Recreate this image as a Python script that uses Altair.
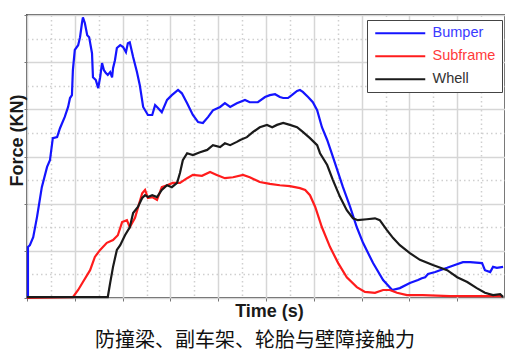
import altair as alt
import pandas as pd

# Time (ms) and force (kN) readings per series
bumper_t = [0.2, 0.2, 0.6, 1.3, 2.1, 3.1, 4.2, 4.8, 5.4, 6.3, 6.9, 7.9, 8.6, 9.0, 9.4, 9.6, 10.0, 10.7, 11.1, 11.5,
            11.7, 12.1, 12.6, 13.0, 13.6, 13.8, 14.4, 14.9, 15.3, 15.7, 16.1, 16.5, 16.9, 17.4, 17.8, 18.0, 18.4, 18.8,
            19.5, 20.1, 20.7, 21.1, 21.5, 22.2, 23.0, 23.6, 24.3, 25.3, 26.2, 26.8, 27.4, 28.2, 29.3, 30.3, 31.6, 32.4,
            33.5, 34.7, 35.8, 36.8, 37.9, 38.9, 40.4, 41.4, 42.5, 43.9, 45.6, 46.6, 48.3, 49.8, 50.8, 51.9, 52.9, 53.6,
            54.6, 55.4, 56.5, 57.1, 57.7, 58.8, 59.8, 60.7, 61.7, 62.8, 64.0, 66.1, 67.6, 69.0, 70.3, 72.4, 74.5, 76.4,
            78.0, 80.1, 81.8, 82.6, 83.3, 83.9, 85.4, 86.4, 87.9, 89.5, 91.2, 92.7, 95.2, 95.8, 96.9, 97.5, 98.3, 99.6]
bumper_f = [0.0, 10.8, 11.2, 12.9, 17.2, 23.5, 27.8, 29.2, 33.9, 34.1, 36.0, 38.4, 40.5, 42.4, 43.0, 48.3, 52.6, 53.6,
            55.3, 58.3, 59.5, 58.3, 55.7, 55.3, 51.9, 46.8, 46.2, 44.5, 46.8, 49.8, 48.3, 47.7, 47.3, 47.9, 46.8, 48.7,
            50.4, 53.0, 53.6, 53.2, 52.1, 54.0, 54.2, 51.1, 47.9, 45.1, 40.5, 38.8, 38.8, 40.9, 40.3, 39.4, 42.0, 43.0,
            44.1, 43.4, 41.3, 38.8, 37.3, 37.1, 38.4, 39.8, 40.5, 41.3, 40.5, 41.3, 42.0, 41.5, 41.5, 42.6, 43.0, 43.2,
            42.6, 42.4, 42.4, 43.0, 43.9, 44.1, 43.7, 42.6, 41.5, 39.8, 36.2, 33.5, 29.9, 23.5, 19.3, 15.0, 11.7, 7.4,
            3.8, 1.7, 2.1, 3.2, 3.8, 4.2, 4.4, 5.1, 5.5, 5.9, 6.4, 7.0, 7.6, 7.6, 7.4, 5.9, 5.5, 6.6, 6.4, 6.6]

subframe_t = [0.0, 9.6, 10.7, 11.7, 13.2, 14.2, 15.3, 16.7, 18.0, 19.0, 19.9, 20.9, 21.5, 22.6, 23.2, 24.1, 24.7, 25.3,
              26.2, 27.2, 28.2, 29.3, 30.5, 32.0, 33.5, 34.7, 36.6, 38.3, 39.7, 41.4, 43.1, 45.2, 46.6, 48.7, 50.8,
              52.9, 55.0, 57.1, 58.2, 59.2, 60.3, 61.7, 63.4, 65.1, 66.9, 69.0, 70.7, 72.8, 74.5, 75.9, 77.4, 79.5,
              82.8, 88.5, 95.4, 99.6]
subframe_f = [0.0, 0.2, 1.7, 3.4, 5.9, 8.7, 10.2, 11.7, 12.3, 13.3, 16.1, 16.5, 15.0, 17.0, 19.1, 22.2, 22.9, 21.2,
              21.4, 20.8, 23.5, 23.9, 24.4, 24.4, 25.4, 26.1, 25.9, 26.7, 26.1, 25.4, 25.6, 26.1, 25.6, 24.6, 24.2,
              23.9, 23.7, 23.3, 22.9, 21.8, 19.3, 15.0, 10.8, 7.4, 4.4, 2.3, 1.3, 1.1, 1.7, 1.7, 1.1, 0.6, 0.6, 0.4,
              0.4, 0.4]

whell_t = [0.0, 16.9, 17.4, 18.0, 18.8, 19.5, 20.5, 21.5, 22.2, 23.2, 24.1, 24.7, 25.3, 26.2, 27.2, 28.2, 29.3, 30.3,
           31.4, 32.0, 32.6, 33.5, 34.7, 36.2, 37.7, 38.9, 40.4, 41.4, 42.5, 43.9, 44.6, 46.0, 47.3, 48.7, 50.2, 51.3,
           52.3, 53.6, 55.0, 56.5, 57.7, 59.2, 60.7, 61.3, 62.8, 64.0, 65.5, 66.9, 68.2, 69.2, 71.1, 72.8, 73.8, 75.3,
           76.6, 78.0, 80.1, 82.2, 84.9, 87.9, 90.0, 92.1, 94.1, 95.8, 97.5, 99.0, 99.6]
whell_f = [0.2, 0.2, 3.2, 6.6, 10.2, 11.2, 13.3, 15.0, 18.0, 19.3, 21.2, 21.8, 21.4, 21.8, 21.4, 22.9, 23.9, 23.5, 24.4,
           26.5, 29.2, 30.7, 30.3, 30.9, 31.4, 32.4, 32.0, 32.8, 32.4, 33.1, 33.5, 34.1, 35.2, 36.2, 36.7, 36.2, 36.7,
           37.1, 36.7, 36.2, 35.2, 33.9, 32.4, 30.7, 28.2, 25.0, 21.4, 18.6, 16.9, 16.5, 16.7, 16.9, 16.5, 14.4, 12.7,
           11.2, 9.5, 8.1, 7.0, 5.9, 4.4, 3.4, 2.1, 1.1, 0.6, 0.8, 0.2]

series_names = ["Bumper", "Subframe", "Whell"]
series_colors = ["#1414ff", "#ff1c1c", "#1a1a1a"]
label_colors = ["#3a3aff", "#ff3a3a", "#333333"]

x_title = "Time (s)"
y_title = "Force (KN)"
caption = "防撞梁、副车架、轮胎与壁障接触力"

rows = []
for name, ts, fs in zip(series_names, [bumper_t, subframe_t, whell_t], [bumper_f, subframe_f, whell_f]):
    for i, (t, f) in enumerate(zip(ts, fs)):
        rows.append({"series": name, "t": t, "f": f, "idx": i})
df = pd.DataFrame(rows)

label_expr = ("datum.label == '%s' ? '%s' : datum.label == '%s' ? '%s' : '%s'"
              % (series_names[0], label_colors[0], series_names[1], label_colors[1], label_colors[2]))

minor_dash = {"condition": {"test": "datum.value % 10 !== 0", "value": [1.5, 3]}, "value": []}
minor_tick = {"condition": {"test": "datum.value % 10 !== 0", "value": 0}, "value": 1}
grid_col = {"condition": {"test": "datum.value % 10 !== 0", "value": "#cfcfcf"}, "value": "#d6d6d6"}

chart = alt.Chart(df).mark_line(strokeWidth=2.2).encode(
    x=alt.X("t:Q", scale=alt.Scale(domain=[0, 100], nice=False, zero=False),
            axis=alt.Axis(values=list(range(0, 101, 5)), labels=False, domain=False,
                          tickSize=3, tickColor="#777", tickOpacity=minor_tick,
                          gridDash=minor_dash, gridColor=grid_col, gridWidth=1.5,
                          title=x_title, titleFont="Liberation Sans", titleFontSize=18,
                          titleFontWeight="bold", titleColor="#1a1a1a", titlePadding=1, titleX=242)),
    y=alt.Y("f:Q", scale=alt.Scale(domain=[0, 60], nice=False),
            axis=alt.Axis(values=list(range(0, 61, 5)), labels=False, domain=False,
                          tickSize=3, tickColor="#777", tickOpacity=minor_tick,
                          gridDash=minor_dash, gridColor=grid_col, gridWidth=1.5,
                          title=y_title, titleFont="Liberation Sans", titleFontSize=18,
                          titleFontWeight="bold", titleColor="#1a1a1a", titleX=-1, titleY=125)),
    color=alt.Color("series:N", scale=alt.Scale(domain=series_names, range=series_colors),
                    legend=alt.Legend(orient="none", legendX=340, legendY=5, title=None,
                                      symbolType="M-1,0H9", symbolSize=100, symbolStrokeWidth=2,
                                      labelOffset=45, labelFont="Liberation Sans", labelFontSize=14.5,
                                      labelColor={"expr": label_expr},
                                      strokeColor="#444", fillColor="white", padding=6, rowPadding=8)),
    order="idx:Q",
).properties(
    width=478, height=283,
    autosize=alt.AutoSizeParams(type="none"),
    padding={"left": 19, "top": 7, "right": 0, "bottom": 60},
    title=alt.TitleParams(caption, orient="bottom", anchor="middle", font="Noto Sans CJK SC",
                          fontSize=20, fontWeight="normal", color="#111", offset=10, dx=-11),
).configure_view(stroke="#5a5a5a", strokeWidth=2)

chart.save("out.html", embed_options={"renderer": "svg", "actions": False})
